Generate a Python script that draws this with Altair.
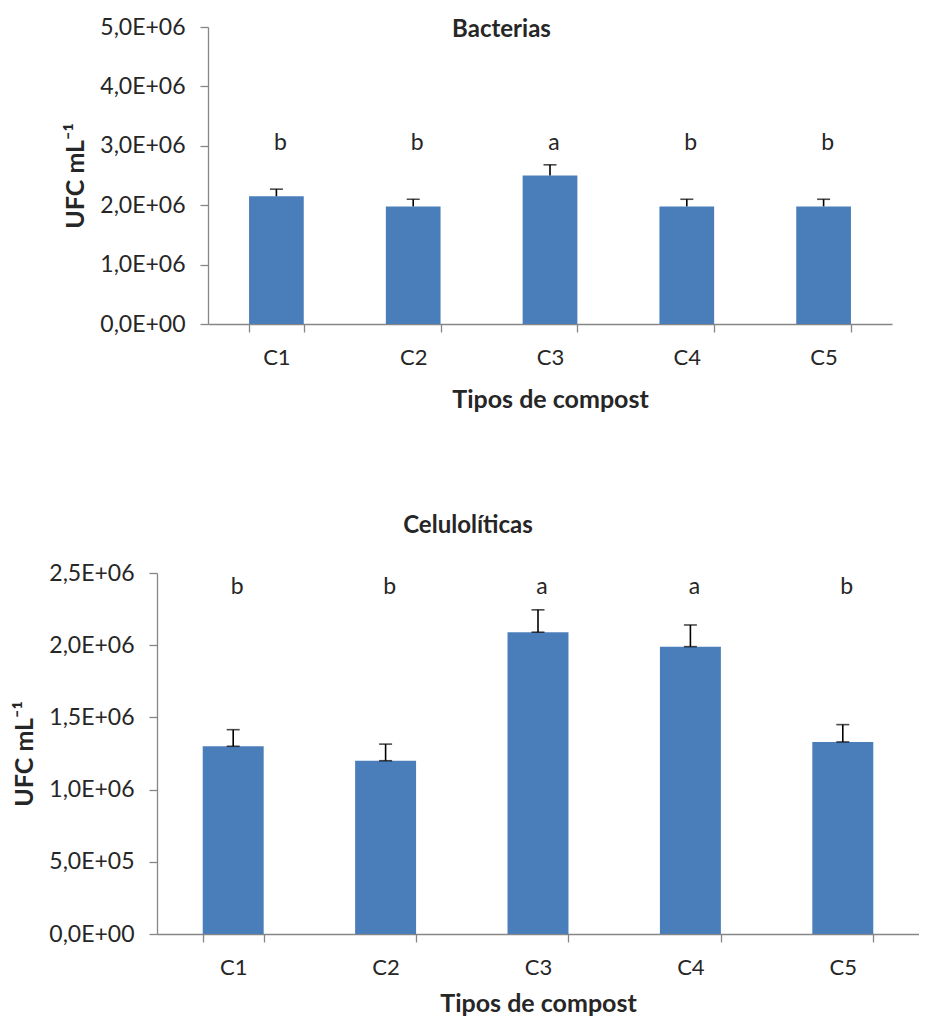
import altair as alt
import pandas as pd

# ---------------- data ----------------
categories = ["C1", "C2", "C3", "C4", "C5"]

bact_mean = [2.15e6, 1.98e6, 2.50e6, 1.98e6, 1.98e6]
bact_err = [0.12e6, 0.12e6, 0.18e6, 0.12e6, 0.12e6]
bact_letters = ["b", "b", "a", "b", "b"]
bact_ticks = [0, 1e6, 2e6, 3e6, 4e6, 5e6]

celu_mean = [1.30e6, 1.20e6, 2.09e6, 1.99e6, 1.33e6]
celu_err = [0.115e6, 0.115e6, 0.155e6, 0.15e6, 0.12e6]
celu_letters = ["b", "b", "a", "a", "b"]
celu_ticks = [0, 5e5, 1e6, 1.5e6, 2e6, 2.5e6]

# ---------------- style ----------------
FONT = "Lato"
BAR = "#4A7EBB"
GRAY = "#868686"
TEXT = "#262626"

LABEL_EXPR = (
    "datum.value == 0 ? '0,0E+00' : "
    "replace(format(datum.value / pow(10, floor(log(datum.value)/LN10 + 1e-9)), '.1f'), '.', ',')"
    " + 'E+' + (floor(log(datum.value)/LN10 + 1e-9) < 10 ? '0' : '')"
    " + floor(log(datum.value)/LN10 + 1e-9)"
)


def panel(mean, err, letters, ticks, ymax, letter_y, width, height,
          title, title_dx, title_offset, lower_cap, xtitle_pad,
          x_range=None, y_offset=0):
    df = pd.DataFrame({
        "cat": categories,
        "mean": mean,
        "hi": [m + e for m, e in zip(mean, err)],
        "letter": letters,
    })
    df["ly"] = letter_y

    scale_kw = dict(paddingInner=0.6, paddingOuter=0.3)
    if x_range is not None:
        scale_kw["range"] = x_range
    x = alt.X(
        "cat:N", sort=categories, title="Tipos de compost",
        scale=alt.Scale(**scale_kw),
        axis=alt.Axis(labelAngle=0, tickBand="extent", labelPadding=15,
                      titlePadding=xtitle_pad, labelFontSize=22,
                      titleFontSize=25, titleFontWeight="bold"),
    )
    yscale = alt.Scale(domain=[0, ymax], nice=False, zero=True)
    yaxis = alt.Axis(values=ticks, labelExpr=LABEL_EXPR, title="UFC mL⁻¹",
                     offset=y_offset, grid=False, labelPadding=15,
                     titlePadding=11, labelFontSize=23, titleFontSize=25,
                     titleFontWeight="bold")

    base = alt.Chart(df)
    bars = base.mark_bar(color=BAR).encode(
        x=x, y=alt.Y("mean:Q", scale=yscale, axis=yaxis))
    stem = base.mark_rule(color="black", strokeWidth=1.6).encode(
        x=x, y=alt.Y("mean:Q", scale=yscale, axis=yaxis), y2="hi:Q")
    cap_hi = base.mark_tick(color="black", size=13, thickness=1.6).encode(
        x=x, y=alt.Y("hi:Q", scale=yscale, axis=yaxis))
    layers = [bars, stem, cap_hi]
    if lower_cap:
        cap_lo = base.mark_tick(color="black", size=13, thickness=1.6).encode(
            x=x, y=alt.Y("mean:Q", scale=yscale, axis=yaxis))
        layers.append(cap_lo)
    txt = base.mark_text(font=FONT, fontSize=23, color=TEXT,
                         baseline="middle", dx=4).encode(
        x=x, y=alt.Y("ly:Q", scale=yscale, axis=yaxis), text="letter:N")
    layers.append(txt)

    return alt.layer(*layers).properties(
        width=width, height=height,
        title=alt.TitleParams(text=title, font=FONT, fontSize=24,
                              fontWeight="bold", color=TEXT, anchor="middle",
                              dx=title_dx, offset=title_offset),
    )


top = panel(bact_mean, bact_err, bact_letters, bact_ticks, 5e6, 3.05e6,
            735, 297, "Bacterias", -23, -26, False, 19,
            x_range=[51, 735], y_offset=-51)
bottom = panel(celu_mean, celu_err, celu_letters, celu_ticks, 2.5e6, 2.4e6,
               762, 361, "Celulolíticas", -70, 24, True, 13)

chart = alt.vconcat(top, bottom, spacing=102).properties(
    padding={"left": 4, "top": 8, "right": 0, "bottom": 0},
    background="white",
).configure_view(strokeWidth=0, stroke="transparent").configure_axis(
    domainColor=GRAY, tickColor=GRAY, tickSize=8, domainWidth=1.3,
    tickWidth=1.3, labelFont=FONT, titleFont=FONT, labelColor=TEXT,
    titleColor=TEXT,
)

chart.save("out.html", embed_options={"renderer": "svg", "actions": False})
